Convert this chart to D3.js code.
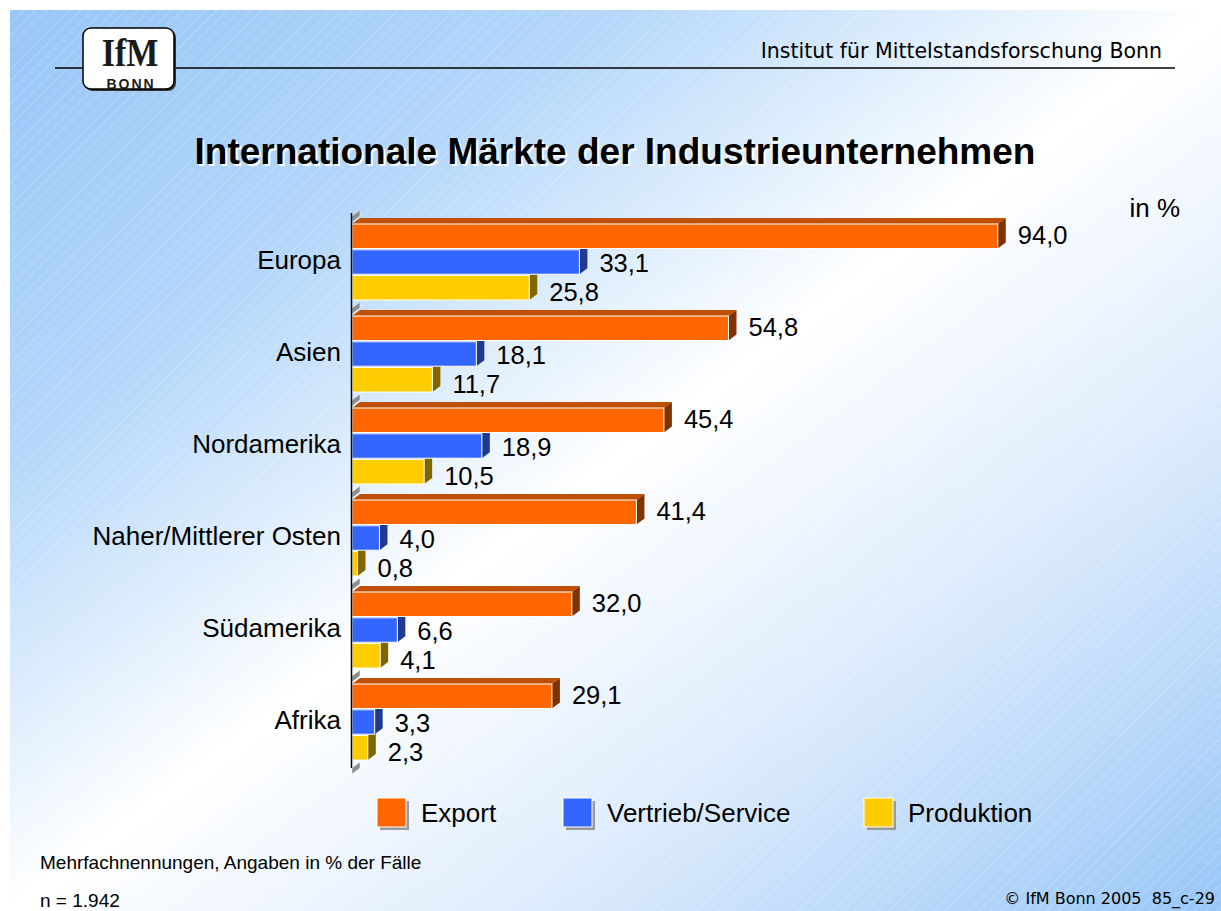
<!DOCTYPE html>
<style>
body { margin: 0; background: #fff; }
text { font-family: "Liberation Sans", Arial, sans-serif; }
</style>
<svg width="1221" height="911"></svg>
<script src="https://d3js.org/d3.v7.min.js"></script>
<script>

var categories = ["Europa", "Asien", "Nordamerika", "Naher/Mittlerer Osten", "Südamerika", "Afrika"];
var seriesNames = ["Export", "Vertrieb/Service", "Produktion"];
var exportVals = [94.0, 54.8, 45.4, 41.4, 32.0, 29.1];
var vertriebVals = [33.1, 18.1, 18.9, 4.0, 6.6, 3.3];
var produktionVals = [25.8, 11.7, 10.5, 0.8, 4.1, 2.3];

var front = ["#FF6600", "#3366FF", "#FFCC00"],
    topc  = ["#C04F00", "#2A4FC0", "#BF9900"],
    side  = ["#803300", "#1F3A8F", "#806600"];

var svg = d3.select("svg");
var defs = svg.append("defs");

// background: diagonal blue-white-blue gradient with faint stripes
var grad = defs.append("linearGradient").attr("id", "bg")
    .attr("x1", 0).attr("y1", 0).attr("x2", 1).attr("y2", 1);
grad.append("stop").attr("offset", 0).attr("stop-color", "#98C6F7");
grad.append("stop").attr("offset", 0.25).attr("stop-color", "#B4D7FA");
grad.append("stop").attr("offset", 0.5).attr("stop-color", "#FFFFFF");
grad.append("stop").attr("offset", 0.72).attr("stop-color", "#DCEBFC");
grad.append("stop").attr("offset", 1).attr("stop-color", "#98C6F7");

var pat = defs.append("pattern").attr("id", "stripes")
    .attr("width", 8).attr("height", 8)
    .attr("patternUnits", "userSpaceOnUse")
    .attr("patternTransform", "rotate(-45)");
pat.append("line").attr("x1", 0).attr("y1", 0).attr("x2", 8).attr("y2", 0)
    .attr("stroke", "#fff").attr("stroke-width", 1).attr("stroke-opacity", 0.4);

svg.append("rect").attr("x", 10).attr("y", 10).attr("width", 1211).attr("height", 901).attr("fill", "url(#bg)");
svg.append("rect").attr("x", 10).attr("y", 10).attr("width", 1211).attr("height", 901).attr("fill", "url(#stripes)");

// header
svg.append("line").attr("x1", 55).attr("x2", 1175).attr("y1", 68).attr("y2", 68)
    .attr("stroke", "#000").attr("stroke-width", 1.5);
svg.append("text").attr("x", 1162).attr("y", 58).attr("text-anchor", "end")
    .style("font-family", "'DejaVu Sans', sans-serif").attr("font-size", 20.5).attr("fill", "#000")
    .text("Institut für Mittelstandsforschung Bonn");

var logo = svg.append("g");
logo.append("rect").attr("x", 85).attr("y", 30).attr("width", 91).attr("height", 61).attr("rx", 8)
    .attr("fill", "#333");
logo.append("rect").attr("x", 83).attr("y", 28).attr("width", 91).attr("height", 61).attr("rx", 8)
    .attr("fill", "#fff").attr("stroke", "#000").attr("stroke-width", 1.5);
logo.append("text").attr("text-anchor", "middle")
    .attr("transform", "translate(130,66) scale(1,1.2)")
    .style("font-family", "'Liberation Serif', serif").attr("font-weight", "bold").attr("font-size", 34)
    .attr("fill", "#1a1a1a").text("IfM");
logo.append("text").attr("x", 131).attr("y", 89).attr("text-anchor", "middle")
    .attr("font-weight", "bold").attr("font-size", 14).attr("letter-spacing", 2).attr("fill", "#1a1a1a").text("BONN");

// title with white shadow
var title = "Internationale Märkte der Industrieunternehmen";
svg.append("text").attr("x", 617).attr("y", 166).attr("text-anchor", "middle")
    .attr("font-weight", "bold").attr("font-size", 37).attr("fill", "#fff").text(title);
svg.append("text").attr("x", 615).attr("y", 164).attr("text-anchor", "middle")
    .attr("font-weight", "bold").attr("font-size", 37).attr("fill", "#000").text(title);

svg.append("text").attr("x", 1180).attr("y", 217).attr("text-anchor", "end")
    .attr("font-size", 26).attr("fill", "#000").text("in %");

// scales
var x = d3.scaleLinear().domain([0, 100]).range([352, 1039]);
var y = d3.scaleBand().domain(categories).range([216, 768]);
var inner = d3.scaleBand().domain(seriesNames).range([8, 84]).paddingInner(0.05);

var data = categories.map(function(c, i) {
  return { cat: c, vals: [exportVals[i], vertriebVals[i], produktionVals[i]] };
});

var dx = 8, dy = -6;
var g = svg.append("g");

// 3D floor segments at category boundaries
var bounds = categories.map(function(c) { return y(c); }).concat([y.range()[1]]);
g.selectAll("polygon.sep").data(bounds).enter().append("polygon")
    .attr("class", "sep")
    .attr("points", function(b) {
      return [[352, b + 6], [352, b], [352 + dx, b + dy], [352 + dx, b + dy + 6]].join(" ");
    })
    .attr("fill", "#8C8C8C").attr("stroke", "#fff").attr("stroke-width", 0.5);

// bars, drawn back (bottom) to front (top) so upper bars cover lower top faces
data.forEach(function(d) {
  [2, 1, 0].forEach(function(j) {
    var s = seriesNames[j];
    var v = d.vals[j];
    var y0 = y(d.cat) + inner(s), h = inner.bandwidth();
    var x0 = x(0), x1 = x(v);
    g.append("polygon")
      .attr("points", [[x0, y0], [x0 + dx, y0 + dy], [x1 + dx, y0 + dy], [x1, y0]].join(" "))
      .attr("fill", topc[j]);
    g.append("polygon")
      .attr("points", [[x1, y0], [x1 + dx, y0 + dy], [x1 + dx, y0 + dy + h], [x1, y0 + h]].join(" "))
      .attr("fill", side[j]);
    g.append("rect")
      .attr("x", x0).attr("y", y0).attr("width", x1 - x0).attr("height", h)
      .attr("fill", front[j]).attr("stroke", "#fff").attr("stroke-width", 1);
  });
});

// axis line
svg.append("line").attr("x1", 351.5).attr("x2", 351.5).attr("y1", 213).attr("y2", 768)
    .attr("stroke", "#000").attr("stroke-width", 1.5);

// category labels
svg.selectAll("text.cat").data(categories).enter().append("text")
    .attr("class", "cat")
    .attr("x", 341).attr("y", function(c) { return y(c) + y.bandwidth() / 2 - 2; })
    .attr("dy", "0.35em").attr("text-anchor", "end")
    .attr("font-size", 26).attr("fill", "#000")
    .text(function(c) { return c; });

// value labels
var labelShift = [-1, 1, 4];
data.forEach(function(d) {
  seriesNames.forEach(function(s, j) {
    var v = d.vals[j];
    svg.append("text")
      .attr("x", x(v) + dx + 12)
      .attr("y", y(d.cat) + inner(s) + inner.bandwidth() / 2 + labelShift[j])
      .attr("dy", "0.35em").attr("font-size", 25.5).attr("fill", "#000")
      .text(d3.format(".1f")(v).replace(".", ","));
  });
});

// legend
var legendX = [377, 563, 864];
var legend = svg.selectAll("g.leg").data(seriesNames).enter().append("g")
    .attr("class", "leg")
    .attr("transform", function(d, i) { return "translate(" + legendX[i] + ",798)"; });
legend.append("rect").attr("x", 3).attr("y", 3).attr("width", 29).attr("height", 29).attr("fill", "#999");
legend.append("rect").attr("width", 29).attr("height", 29)
    .attr("fill", function(d, i) { return front[i]; }).attr("stroke", "#fff").attr("stroke-width", 1);
legend.append("text").attr("x", 44).attr("y", 15).attr("dy", "0.35em")
    .attr("font-size", 26).attr("fill", "#000").text(function(d) { return d; });

// footer
svg.append("text").attr("x", 40).attr("y", 869).attr("font-size", 19).attr("fill", "#000")
    .text("Mehrfachnennungen, Angaben in % der Fälle");
svg.append("text").attr("x", 40).attr("y", 907).attr("font-size", 19).attr("fill", "#000")
    .text("n = 1.942");
svg.append("text").attr("x", 1215).attr("y", 904).attr("text-anchor", "end")
    .style("font-family", "'DejaVu Sans', sans-serif").style("white-space", "pre")
    .attr("font-size", 16).attr("fill", "#000")
    .text("© IfM Bonn 2005  85_c-29");

</script>
